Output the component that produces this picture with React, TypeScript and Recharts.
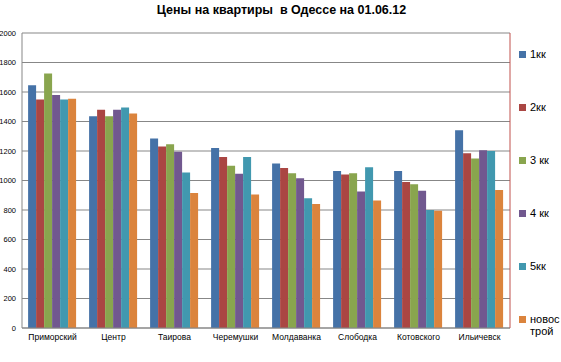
import { BarChart, Bar, XAxis, YAxis, CartesianGrid, ReferenceLine } from "recharts";

// районы
const districts = [
  "Приморский",
  "Центр",
  "Таирова",
  "Черемушки",
  "Молдаванка",
  "Слободка",
  "Котовского",
  "Ильичевск",
];

// цены по типам квартир
const k1 = [1645, 1435, 1285, 1220, 1115, 1065, 1065, 1340];
const k2 = [1550, 1480, 1230, 1160, 1085, 1040, 990, 1185];
const k3 = [1725, 1435, 1245, 1100, 1050, 1050, 975, 1150];
const k4 = [1580, 1480, 1195, 1045, 1015, 925, 930, 1205];
const k5 = [1550, 1495, 1055, 1160, 880, 1090, 800, 1200];
const novostroy = [1555, 1455, 915, 905, 840, 865, 795, 935];

const yTicks = [0, 200, 400, 600, 800, 1000, 1200, 1400, 1600, 1800, 2000];

const series = [
  { key: "k1", name: "1кк", values: k1, color: "#4572A7" },
  { key: "k2", name: "2кк", values: k2, color: "#AA4643" },
  { key: "k3", name: "3 кк", values: k3, color: "#89A54E" },
  { key: "k4", name: "4 кк", values: k4, color: "#71588F" },
  { key: "k5", name: "5кк", values: k5, color: "#4198AF" },
  { key: "nov", name: "новострой", values: novostroy, color: "#DB843D" },
];

const data = districts.map((name, i) => {
  const row: { [key: string]: string | number } = { name };
  series.forEach((s) => {
    row[s.key] = s.values[i];
  });
  return row;
});

const font = "'Liberation Sans', Arial, sans-serif";

const App = () => {
  return (
    <div
      style={{
        position: "absolute",
        left: 0,
        top: 0,
        width: 561,
        height: 362,
        background: "#fff",
        fontFamily: font,
      }}
    >
      <div
        style={{
          position: "absolute",
          top: 3,
          left: 0,
          width: 563,
          textAlign: "center",
          fontWeight: "bold",
          fontSize: 12.5,
          color: "#000",
          whiteSpace: "pre",
        }}
      >
        {"Цены на квартиры  в Одессе на 01.06.12"}
      </div>
      <BarChart
        width={561}
        height={362}
        data={data}
        margin={{ top: 33, right: 50, bottom: 17, left: 0 }}
        barCategoryGap="10%"
        barGap={0}
      >
        <CartesianGrid vertical={false} stroke="#878787" strokeWidth={1} yAxisId="left" />
        <XAxis
          dataKey="name"
          height={17}
          tickSize={0}
          tickMargin={6}
          axisLine={{ stroke: "#878787" }}
          tick={{ fontSize: 8.5, fill: "#000", fontFamily: font }}
          interval={0}
        />
        <YAxis
          yAxisId="left"
          width={22}
          domain={[0, 2000]}
          ticks={yTicks}
          tickSize={0}
          tickMargin={6}
          axisLine={{ stroke: "#878787" }}
          tick={{ fontSize: 7.5, fill: "#000", fontFamily: font }}
          interval={0}
        />
        <YAxis
          yAxisId="right"
          orientation="right"
          width={1}
          domain={[0, 2000]}
          tick={false}
          tickLine={false}
          axisLine={{ stroke: "#C0504D" }}
        />
        <ReferenceLine yAxisId="right" y={2000} stroke="#C0504D" />
        {series.map((s) => (
          <Bar
            key={s.key}
            yAxisId="left"
            dataKey={s.key}
            name={s.name}
            fill={s.color}
            isAnimationActive={false}
          />
        ))}
      </BarChart>
      {series.map((s, i) => (
        <div
          key={s.key}
          style={{
            position: "absolute",
            left: 519,
            top: 48 + i * 53,
            fontSize: 11,
            lineHeight: "12px",
            color: "#000",
            width: 40,
          }}
        >
          <span
            style={{
              position: "absolute",
              left: 0,
              top: 3,
              width: 7,
              height: 7,
              background: s.color,
            }}
          />
          <span style={{ position: "absolute", left: 11, top: 0 }}>
            {s.name === "новострой" ? (
              <>
                новос
                <br />
                трой
              </>
            ) : (
              s.name
            )}
          </span>
        </div>
      ))}
    </div>
  );
};

export default App;
